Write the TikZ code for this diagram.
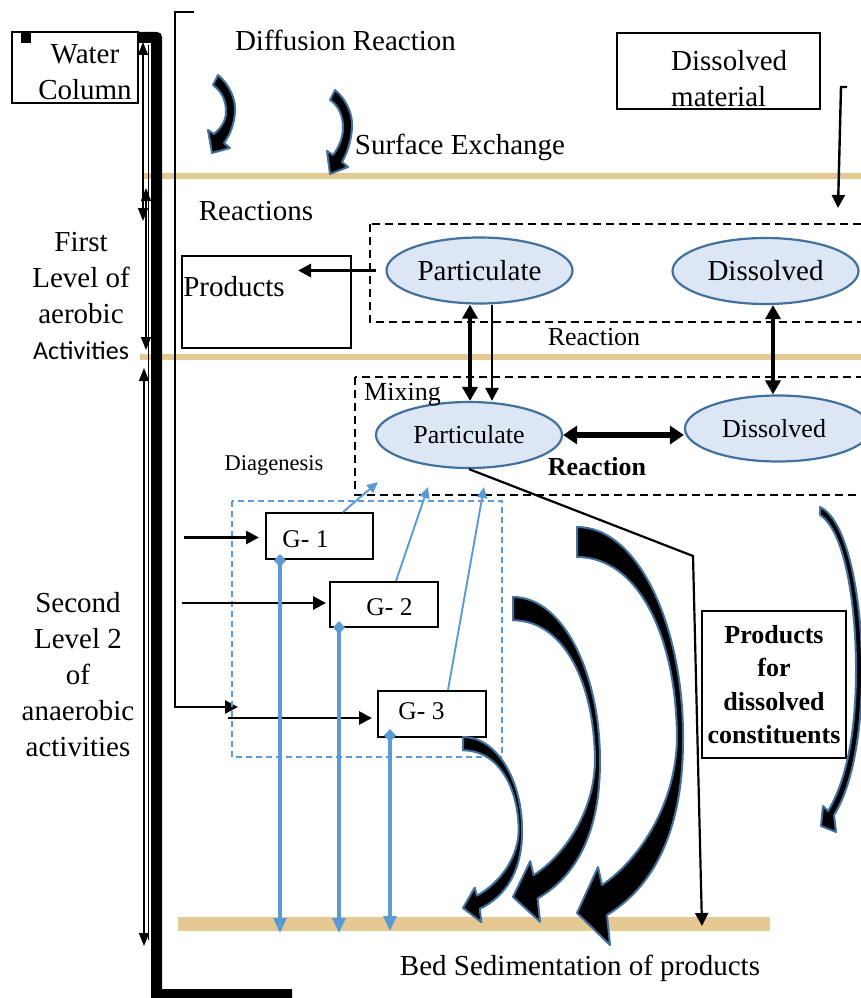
\documentclass[tikz,border=0pt]{standalone}
\usepackage{fontspec}
\setmainfont{Liberation Serif}
\newfontfamily\calibfont{Carlito}
\usetikzlibrary{arrows.meta,shapes.geometric,calc}
\definecolor{ellfill}{RGB}{220,230,244}
\definecolor{ellline}{RGB}{65,113,156}
\definecolor{gblue}{RGB}{91,155,213}
\definecolor{bandtan}{RGB}{230,200,146}
\newcommand\szA{\fontsize{29}{36}\selectfont}
\newcommand\szB{\fontsize{26}{33.3}\selectfont}
\newcommand\szC{\fontsize{22.5}{27}\selectfont}
\newcommand\szG{\fontsize{25.5}{30}\selectfont}
\begin{document}
\begin{tikzpicture}[x=1pt,y=-1pt,
  txt/.style={inner sep=0pt, align=center, font=\szA},
  ell/.style={ellipse, draw=ellline, fill=ellfill, line width=2.2pt, minimum width=186pt, minimum height=66pt, inner sep=0pt, font=\szA},
  rbox/.style={draw, line width=2pt, inner sep=0pt},
  dbox/.style={draw, line width=2.5pt, dash pattern=on 8pt off 5pt},
  barr/.style={line width=2.8pt, -{Triangle[length=13pt,width=13pt]}},
  dblarr/.style={line width=3.8pt, {Triangle[length=14pt,width=15pt]}-{Triangle[length=14pt,width=15pt]}},
  thinarr/.style={line width=1.5pt, {Triangle[length=13pt,width=10pt]}-{Triangle[length=13pt,width=10pt]}},
  bluearr/.style={gblue, line width=1.9pt, -{Triangle[length=11pt,width=10pt]}},
  bluedrop/.style={gblue, line width=3.2pt, {Diamond[length=13pt,width=12pt]}-{Triangle[length=15pt,width=13pt]}},
  curv/.style={fill=black, draw=ellline, line width=2pt, line join=round},
  bigcurve/.pic={\filldraw[curv] (0,0) .. controls (63,0) and (107,103) .. (106,213) .. controls (106,305) and (76,360) .. (30,388) -- (33,418) -- (0,386) -- (21,340) -- (25,358) .. controls (58,336) and (98,283) .. (100,213) .. controls (100,113) and (63,30) .. (0,30) -- cycle;}
]
\useasboundingbox (0,0) rectangle (860,998);
\fill[white] (0,0) rectangle (860,998);

% sediment bands
\fill[bandtan] (143,172.5) rectangle (862,179);
\fill[bandtan] (140,353.5) rectangle (862,360);
\fill[bandtan] (178,917) rectangle (770,931);

% thick L bar
\fill (138,32) -- (157,32) .. controls (160,32) and (162,34) .. (162,37) -- (162,989) -- (292,989) -- (292,998) -- (151,998) -- (151,43) -- (138,43) -- cycle;

% water column box
\node[rbox, minimum width=126pt, minimum height=71pt] (wc) at (75,67.5) {};
\fill (21,32) rectangle (31,43);
\node[txt] (wct) at (85,72) {Water\\Column};

% level arrows
\coordinate (wa1) at (143,42); \coordinate (wa2) at (143,221);
\coordinate (wb1) at (146,188); \coordinate (wb2) at (146,350);
\coordinate (wc1) at (144,368); \coordinate (wc2) at (144,946);
\coordinate (wd1) at (148,45); \coordinate (wd2) at (148,940);
\draw[line width=0.9pt] (wd1) -- (wd2);
\draw[thinarr] (wa1) -- (wa2);
\draw[thinarr] (wb1) -- (wb2);
\draw[thinarr] (wc1) -- (wc2);

% bracket line
\coordinate (bt) at (194,12); \coordinate (bc) at (175,12);
\coordinate (bb) at (175,707); \coordinate (be) at (238,707);
\draw[barr, line width=2.4pt] (bt) -- (bc) -- (bb) -- (be);

% texts
\node[txt] (dr) at (345.5,40) {Diffusion Reaction};
\node[txt] (se) at (460,147) {Surface Exchange};
\node[txt] (rx) at (256,211) {Reactions};
\node[txt] (lvl1) at (81,296) {First\\Level of\\aerobic\\{\calibfont\fontsize{26}{36}\selectfont Activities}};
\node[txt] (lvl2) at (78,675) {Second\\Level 2\\of\\anaerobic\\activities};
\node[txt] (bed) at (580,968) {Bed Sedimentation of products};

% dissolved material
\node[rbox, minimum width=203pt, minimum height=76pt] (dm) at (718.5,71) {};
\node[txt, align=left, anchor=west] (dmt) at (671,79) {Dissolved\\material};
\coordinate (dmt0) at (847,87); \coordinate (dmt1) at (841,87); \coordinate (dmt2) at (838,208);
\draw[barr, line width=2.4pt] (dmt0) -- (dmt1) -- (dmt2);

% small curved arrows
\filldraw[curv] (218,75) .. controls (230,85) and (236,100) .. (235,112) .. controls (234,125) and (230,135) .. (224,143) -- (230,148) -- (212,153) -- (208,130) -- (214,134) .. controls (222,127) and (226,120) .. (226,112) .. controls (226,100) and (222,92) .. (213,85) -- cycle;
\filldraw[curv] (335,90) .. controls (347,100) and (353,115) .. (352,128) .. controls (351,142) and (347,153) .. (342,162) -- (348,167) -- (330,174) -- (327,151) -- (333,155) .. controls (339,147) and (343,138) .. (343,128) .. controls (343,116) and (339,106) .. (330,100) -- cycle;

% dashed boxes
\draw[dbox] (370,224) rectangle (875,322);
\draw[dbox] (355,377) rectangle (875,495);
\draw[gblue, line width=1.8pt, dash pattern=on 6pt off 4pt] (232,501) rectangle (502,757);

% ellipses
\node[ell] (pu) at (479.5,270.5) {Particulate};
\node[ell] (du) at (765.5,271) {Dissolved};
\node[ell, font=\szB] (pl) at (469,435) {\raisebox{-9pt}{Particulate}};
\node[ell, font=\szB] (dl) at (778,428.5) {\hspace*{-8pt}Dissolved};

% products box
\node[rbox, minimum width=169pt, minimum height=92pt] (prod) at (266.5,302) {};
\node[txt] (prodt) at (234,287) {Products};
\coordinate (ptip) at (298,272);
\draw[barr, line width=3.2pt, shorten <=9pt] (pu.west) -- (pu.west -| ptip);

% reaction arrows
\draw[dblarr] ([xshift=-9.5pt]pu.south) -- ([xshift=1pt]pl.north);
\draw[barr, line width=2.4pt] ([xshift=12.5pt]pu.south) -- ([xshift=23pt]pl.north);
\draw[dblarr] ([xshift=7.5pt]du.south) -- ([xshift=-5pt]dl.north);
\draw[line width=5.5pt, {Triangle[length=14pt,width=18pt]}-{Triangle[length=14pt,width=18pt]}] (pl.east) -- (pl.east -| dl.west);

\node[txt, font=\szB] (r1) at (594,337) {Reaction};
\node[txt, font=\szB] (mix) at (402.5,395) {Mixing};
\node[txt, font=\szB\bfseries] (r2) at (597,467) {Reaction};
\node[txt, font=\szC] (diag) at (274,465) {Diagenesis};

% G boxes
\node[rbox, minimum width=107pt, minimum height=46pt] (g1) at (319.5,536) {};
\node[inner sep=0pt, font=\szG] (g1t) at (305.5,539) {G- 1};
\node[rbox, minimum width=108pt, minimum height=45pt] (g2) at (384,604.5) {};
\node[inner sep=0pt, font=\szG] (g2t) at (389.5,607) {G- 2};
\node[rbox, minimum width=108pt, minimum height=46pt] (g3) at (432,714) {};
\node[inner sep=0pt, font=\szG] (g3t) at (421.5,711) {G- 3};

\coordinate (ga1) at (184,537.5); \coordinate (ga2) at (182,603); \coordinate (ga3) at (228,718);
\draw[barr, shorten >=6pt] (ga1) -- (ga1 -| g1.west);
\draw[barr, shorten >=3pt] (ga2) -- (ga2 -| g2.west);
\draw[barr, shorten >=5pt] (ga3) -- (ga3 -| g3.west);

\coordinate (bu1) at (378,482); \coordinate (bu2) at (428,487); \coordinate (bu3) at (484,487);
\draw[bluearr] ([xshift=23.5pt]g1.north) -- (bu1);
\draw[bluearr] ([xshift=12pt]g2.north) -- (bu2);
\draw[bluearr] ([xshift=16pt]g3.north) -- (bu3);

\coordinate (bd1) at (280,933); \coordinate (bd2) at (339,933); \coordinate (bd3) at (390,931);
\draw[bluedrop] ([xshift=-39.5pt,yshift=6pt]g1.south) -- (bd1);
\draw[bluedrop] ([xshift=-45pt,yshift=7pt]g2.south) -- (bd2);
\draw[bluedrop] ([xshift=-42pt,yshift=9pt]g3.south) -- (bd3);

% products for dissolved constituents
\node[rbox, minimum width=144pt, minimum height=147pt, font=\szB\bfseries, align=center] (pdc) at (774,684.5) {Products\\for\\dissolved\\constituents};

\coordinate (elb) at (693,556); \coordinate (bedtip) at (702,926);
\draw[barr, line width=2.2pt] (pl.south) -- (elb) -- (bedtip);

% big curved arrows
\pic[xscale=0.557,yscale=0.443] at (463,737) {bigcurve};
\pic[xscale=0.82,yscale=0.777] at (513,597) {bigcurve};
\pic at (577,527) {bigcurve};
\filldraw[curv] (820,507) .. controls (848,520) and (862,600) .. (862,670) .. controls (862,740) and (850,790) .. (834,815) -- (836,832) -- (821,826) -- (823,806) -- (828,811) .. controls (844,785) and (856,740) .. (856,670) .. controls (856,600) and (844,530) .. (820,515) -- cycle;
\end{tikzpicture}
\end{document}
